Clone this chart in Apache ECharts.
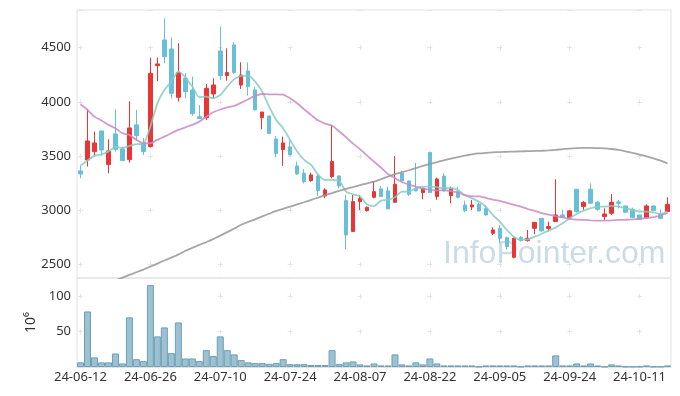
<!DOCTYPE html>
<html>
<head>
<meta charset="utf-8">
<script src="https://cdn.jsdelivr.net/npm/echarts@6/dist/echarts.min.js"></script>
<style>html,body{margin:0;padding:0;background:#fff}#c{width:680px;height:396px}</style>
</head>
<body>
<div id="c"></div>
<script>
const dates = ['24-06-12','24-06-13','24-06-14','24-06-17','24-06-18','24-06-19','24-06-20','24-06-21','24-06-24','24-06-25','24-06-26','24-06-27','24-06-28',
'24-07-01','24-07-02','24-07-03','24-07-04','24-07-05','24-07-08','24-07-09','24-07-10','24-07-11','24-07-12','24-07-15','24-07-16','24-07-17','24-07-18','24-07-19','24-07-22','24-07-23','24-07-24','24-07-25','24-07-26','24-07-29','24-07-30','24-07-31',
'24-08-01','24-08-02','24-08-05','24-08-06','24-08-07','24-08-08','24-08-09','24-08-12','24-08-13','24-08-14','24-08-16','24-08-19','24-08-20','24-08-21','24-08-22','24-08-23','24-08-26','24-08-27','24-08-28','24-08-29','24-08-30',
'24-09-02','24-09-03','24-09-04','24-09-05','24-09-06','24-09-09','24-09-10','24-09-11','24-09-12','24-09-13','24-09-19','24-09-20','24-09-23','24-09-24','24-09-25','24-09-26','24-09-27','24-09-30',
'24-10-02','24-10-04','24-10-07','24-10-08','24-10-10','24-10-11','24-10-14','24-10-15','24-10-16','24-10-17'];

const openP  = [3364,3465,3542,3732,3422,3705,3566,3468,3788,3619,3588,4334,4571,4488,4043,4218,4110,3864,3855,4073,4469,4242,4525,4156,4285,4110,3855,3870,3658,3560,3585,3410,3342,3274,3317,3133,3311,3318,3090,2805,3081,2998,3121,3198,3180,3075,3342,3272,3200,3164,3533,3127,3317,3136,3173,3050,3032,3056,3019,2789,2835,2749,2568,2752,2722,2835,2927,2832,2897,2958,2933,3195,3035,3195,3075,2943,2973,3078,3041,3010,2958,2933,3041,2967,2989];
const closeP = [3336,3640,3622,3557,3548,3563,3459,3760,3690,3542,4264,4350,4417,4079,4270,4095,3892,3846,4125,4156,4242,4270,4270,4248,4141,3926,3907,3708,3526,3622,3511,3336,3265,3327,3182,3189,3450,3225,2774,3081,3109,3029,3173,3127,3014,3241,3272,3149,3180,3204,3164,3290,3182,3204,3121,2998,3050,2995,2958,2820,2743,2666,2743,2722,2743,2890,2811,2851,2958,2936,2995,2989,3072,3066,3010,2967,3075,3066,2983,2936,2918,3041,2998,2927,3056];
const lowP   = [3296,3404,3496,3505,3342,3542,3459,3441,3640,3511,3580,4190,4356,4033,4003,4033,3870,3846,3833,4033,4202,4196,4258,4119,4058,3926,3747,3708,3489,3410,3511,3327,3250,3265,3133,3112,3296,3204,2642,2805,3004,2989,3112,3127,3014,3075,3272,3133,3175,3102,3164,3097,3173,3066,3111,2983,3004,2989,2949,2774,2697,2641,2558,2712,2712,2780,2805,2805,2897,2927,2912,2980,3004,3066,2998,2912,2958,3019,2983,2936,2912,2927,2998,2927,2989];
const highP  = [3410,3932,3726,3732,3655,3932,3588,4006,3926,3665,4408,4408,4771,4596,4540,4264,4233,3972,4165,4217,4694,4494,4549,4365,4365,4141,3907,3870,3686,3680,3658,3450,3379,3348,3327,3204,3788,3318,3142,3142,3142,3035,3271,3225,3219,3502,3367,3272,3437,3204,3542,3302,3342,3219,3219,3090,3096,3071,3050,2844,2866,2758,2752,2764,2820,2890,2927,2896,3287,3004,3004,3195,3087,3250,3087,3019,3151,3096,3041,3025,2958,3056,3050,3010,3121];

const ma5  = [3413,3460,3502,3517,3542,3585,3575,3594,3610,3613,3772,3987,4110,4187,4279,4227,4141,4043,4049,4033,4064,4141,4210,4239,4239,4187,4095,3957,3834,3757,3649,3542,3465,3419,3330,3280,3281,3275,3173,3148,3130,3055,3040,3090,3096,3121,3173,3173,3204,3219,3219,3215,3204,3204,3188,3142,3112,3081,3035,2958,2897,2820,2758,2730,2734,2758,2785,2814,2844,2881,2927,2967,2998,3020,3035,3035,3041,3035,3020,3004,2989,2989,2982,2967,2989];
const ma20 = [3978,3926,3864,3828,3788,3757,3711,3696,3650,3619,3619,3650,3680,3711,3742,3766,3788,3818,3864,3905,3930,3950,3963,3993,4024,4055,4073,4070,4070,4068,4033,3987,3932,3880,3830,3800,3780,3730,3675,3615,3565,3505,3450,3395,3335,3296,3262,3238,3220,3200,3190,3185,3185,3178,3165,3140,3130,3130,3115,3100,3088,3070,3050,3035,3013,2995,2975,2960,2947,2935,2922,2915,2912,2908,2906,2906,2908,2912,2914,2918,2922,2930,2937,2955,2975];
const ma60 = [2230,2255,2280,2305,2330,2355,2380,2405,2430,2455,2482,2510,2538,2565,2593,2628,2655,2682,2708,2735,2768,2800,2833,2868,2895,2918,2945,2970,2995,3015,3035,3055,3075,3097,3118,3140,3160,3180,3198,3215,3232,3250,3265,3288,3312,3335,3352,3370,3390,3410,3428,3445,3462,3478,3492,3505,3516,3525,3530,3535,3538,3540,3542,3544,3546,3548,3550,3553,3557,3565,3570,3574,3576,3576,3574,3572,3566,3558,3545,3530,3515,3498,3480,3458,3434];

const volume = [6.5,78,13.5,6.5,6.5,19,5,69.7,11,8.3,115,43,55.6,19.5,62.6,12,12,8.3,23.7,15.3,43,23.7,17.7,9.7,6.5,5.5,5.5,4.5,5.5,11,4,4,4,2.7,2.7,2.7,23.7,4,6.5,7.8,3.6,2.2,5,2.2,2.2,17.7,3.6,2.2,6.5,3.6,12,5,2.2,2.2,2.2,2.2,2.2,0.6,2.2,2.2,2.2,2.2,2.2,0.6,2.2,2.2,2.2,2.2,16.3,2.2,2.2,5,2.2,5,2.2,0.6,3.6,2.2,0.6,0.6,0.6,2.2,0.6,0.6,2.2];

const candles = dates.map((d, i) => [openP[i], closeP[i], lowP[i], highP[i]]);

const font = 'Noto Sans';
const gridLine = '#e4e4e4';
const plain = v => String(v);
const chart = echarts.init(document.getElementById('c'), null, {renderer: 'canvas'});
chart.setOption({
  animation: false,
  textStyle: {fontFamily: font},
  grid: [
    {left: 77, right: 9, top: 10, height: 268, show: true, borderColor: '#e2e2e2', borderWidth: 1},
    {left: 77, right: 9, top: 278, height: 89, show: true, borderColor: '#e2e2e2', borderWidth: 1}
  ],
  xAxis: [
    {type: 'category', gridIndex: 0, data: dates, boundaryGap: true,
     axisLine: {show: false}, axisTick: {show: false}, axisLabel: {show: false},
     splitLine: {show: true, interval: 9, alignWithLabel: true,
       lineStyle: {color: gridLine, width: 1, type: [5, 49.25], dashOffset: 19.05}}},
    {type: 'category', gridIndex: 1, data: dates, boundaryGap: true,
     axisLine: {show: true, lineStyle: {color: '#e2e2e2'}}, axisTick: {show: false},
     axisLabel: {interval: 9, color: '#333', fontSize: 13, margin: 4, fontFamily: font},
     splitLine: {show: true, interval: 9, alignWithLabel: true,
       lineStyle: {color: gridLine, width: 1, type: [5, 30.6], dashOffset: 19.8}}}
  ],
  yAxis: [
    {type: 'value', gridIndex: 0, min: 2377, max: 4847, scale: true,
     axisLine: {show: false}, axisTick: {show: false},
     axisLabel: {color: '#333', fontSize: 13, margin: 6, showMinLabel: false, showMaxLabel: false, fontFamily: font, formatter: plain},
     splitLine: {show: true, lineStyle: {color: gridLine, width: 1, type: [5, 64.88], dashOffset: 68.88}}},
    {type: 'value', gridIndex: 1, min: 0, max: 125, interval: 50,
     name: '10\u2076', nameLocation: 'middle', nameGap: 39, nameRotate: 90,
     nameTextStyle: {color: '#333', fontSize: 14, fontFamily: font},
     axisLine: {show: false}, axisTick: {show: false},
     axisLabel: {color: '#333', fontSize: 13, margin: 6, showMinLabel: false, showMaxLabel: false, fontFamily: font, formatter: plain},
     splitLine: {show: true, lineStyle: {color: gridLine, width: 1, type: [5, 64.88], dashOffset: 68.88}}}
  ],
  graphic: [{
    type: 'text', x: 443, y: 254, z: 1, silent: true,
    style: {text: 'InfoPointer.com', font: '32px "Liberation Sans"', fill: '#cbdce6', verticalAlign: 'middle'}
  }],
  series: [
    {type: 'candlestick', xAxisIndex: 0, yAxisIndex: 0, data: candles, barWidth: 4,
     itemStyle: {color: '#eb3535', color0: '#67bfd8', borderColor: '#eb3535', borderColor0: '#67bfd8', borderWidth: 1}},
    {type: 'line', name: 'MA5', xAxisIndex: 0, yAxisIndex: 0, data: ma5, showSymbol: false, smooth: 0.2,
     lineStyle: {color: '#86ccc1', width: 1.8, opacity: 0.85}},
    {type: 'line', name: 'MA20', xAxisIndex: 0, yAxisIndex: 0, data: ma20, showSymbol: false, smooth: 0.2,
     lineStyle: {color: '#c98ac6', width: 1.8, opacity: 0.85}},
    {type: 'line', name: 'MA60', xAxisIndex: 0, yAxisIndex: 0, data: ma60, showSymbol: false, smooth: 0.2,
     lineStyle: {color: '#969696', width: 1.8, opacity: 0.85}},
    {type: 'bar', name: 'Volume', xAxisIndex: 1, yAxisIndex: 1, data: volume, barCategoryGap: '0%',
     itemStyle: {color: '#9cc1d1', borderColor: '#6e9fb7', borderWidth: 1}}
  ]
});
</script>
</body>
</html>
